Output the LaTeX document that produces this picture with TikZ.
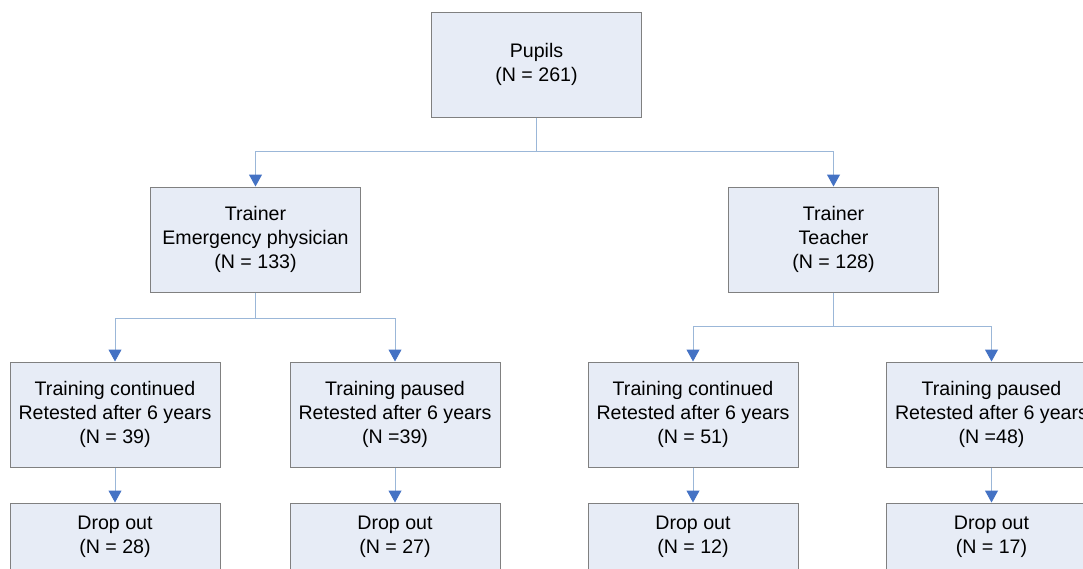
\documentclass[tikz,border=0pt]{standalone}
\usepackage{fontspec}
\setmainfont{Liberation Sans}
\usetikzlibrary{arrows.meta}
\definecolor{boxfill}{RGB}{231,236,246}
\definecolor{boxline}{RGB}{128,128,128}
\definecolor{linecol}{RGB}{155,183,216}
\definecolor{tipcol}{RGB}{68,114,196}
\tikzset{
  box/.style={draw=boxline, line width=1pt, fill=boxfill, minimum width=210pt, minimum height=105pt,
    align=center, inner sep=0pt, font=\fontsize{19.6pt}{24pt}\selectfont},
  dropbox/.style={box, minimum height=68pt},
  conn/.style={draw=linecol, line width=1pt},
  arr/.style={conn, -{Triangle[width=13pt,length=12pt,color=tipcol]}}
}
\begin{document}
\begin{tikzpicture}[x=1pt,y=-1pt]
\useasboundingbox (0,0) rectangle (1083,568);
\fill[white] (0,0) rectangle (1083,568);
\node[box] (p) at (536.5,64.5) {Pupils\\(N = 261)};
\node[box] (e) at (255.5,239.5) {Trainer\\Emergency physician\\(N = 133)};
\node[box] (t) at (833.5,239.5) {Trainer\\Teacher\\(N = 128)};
\node[box] (a1) at (115,414.5) {Training continued\\Retested after 6 years\\(N = 39)};
\node[box] (a2) at (395,414.5) {Training paused\\Retested after 6 years\\(N =39)};
\node[box] (a3) at (693,414.5) {Training continued\\Retested after 6 years\\(N = 51)};
\node[box] (a4) at (991.5,414.5) {Training paused\\Retested after 6 years\\(N =48)};
\node[dropbox] (d1) at (115,537) {Drop out\\(N = 28)};
\node[dropbox] (d2) at (395,537) {Drop out\\(N = 27)};
\node[dropbox] (d3) at (693,537) {Drop out\\(N = 12)};
\node[dropbox] (d4) at (991.5,537) {Drop out\\(N = 17)};
\coordinate (j0) at (536.5,151);
\coordinate (j1) at (255.5,318);
\coordinate (j2) at (833.5,326);
\draw[conn] (p.south) -- (j0);
\draw[arr] (j0) -| (e.north);
\draw[arr] (j0) -| (t.north);
\draw[conn] (e.south) -- (j1);
\draw[arr] (j1) -| (a1.north);
\draw[arr] (j1) -| (a2.north);
\draw[conn] (t.south) -- (j2);
\draw[arr] (j2) -| (a3.north);
\draw[arr] (j2) -| (a4.north);
\draw[arr] (a1.south) -- (d1.north);
\draw[arr] (a2.south) -- (d2.north);
\draw[arr] (a3.south) -- (d3.north);
\draw[arr] (a4.south) -- (d4.north);
\end{tikzpicture}
\end{document}
